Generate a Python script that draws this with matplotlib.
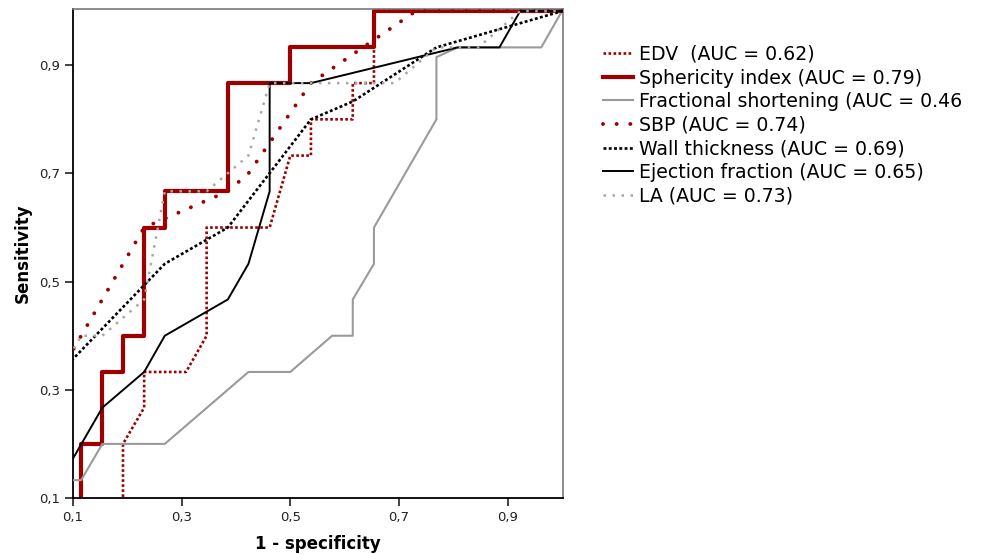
import matplotlib
matplotlib.use('Agg')
import matplotlib.pyplot as plt

# ROC curves (x = 1 - specificity, y = sensitivity)
edv_x = [0.192, 0.192, 0.231, 0.231, 0.308, 0.346, 0.346, 0.462, 0.500, 0.538, 0.538, 0.615, 0.615, 0.654, 0.654, 1.0]
edv_y = [0.0, 0.200, 0.267, 0.333, 0.333, 0.400, 0.600, 0.600, 0.733, 0.733, 0.800, 0.800, 0.867, 0.867, 1.0, 1.0]

sph_x = [0.115, 0.115, 0.154, 0.154, 0.192, 0.192, 0.231, 0.231, 0.269, 0.269, 0.385, 0.385, 0.500, 0.500, 0.654, 0.654, 1.0]
sph_y = [0.0, 0.200, 0.200, 0.333, 0.333, 0.400, 0.400, 0.600, 0.600, 0.667, 0.667, 0.867, 0.867, 0.933, 0.933, 1.0, 1.0]

fs_x = [0.077, 0.115, 0.154, 0.269, 0.423, 0.500, 0.577, 0.615, 0.615, 0.654, 0.654, 0.769, 0.769, 0.808, 0.962, 1.0]
fs_y = [0.133, 0.133, 0.200, 0.200, 0.333, 0.333, 0.400, 0.400, 0.467, 0.533, 0.600, 0.800, 0.915, 0.933, 0.933, 1.0]

sbp_x = [0.038, 0.231, 0.385, 0.423, 0.538, 0.731, 1.0]
sbp_y = [0.267, 0.600, 0.667, 0.700, 0.867, 1.0, 1.0]

wt_x = [0.077, 0.269, 0.385, 0.538, 0.615, 0.769, 1.0]
wt_y = [0.333, 0.533, 0.600, 0.800, 0.833, 0.933, 1.0]

ef_x = [0.077, 0.154, 0.231, 0.269, 0.385, 0.423, 0.462, 0.462, 0.538, 0.808, 0.885, 0.923, 1.0]
ef_y = [0.133, 0.267, 0.333, 0.400, 0.467, 0.533, 0.667, 0.867, 0.867, 0.933, 0.933, 1.0, 1.0]

la_x = [0.077, 0.115, 0.154, 0.231, 0.269, 0.346, 0.423, 0.462, 0.692, 0.769, 0.846, 0.923, 1.0]
la_y = [0.333, 0.400, 0.400, 0.467, 0.667, 0.667, 0.733, 0.867, 0.867, 0.933, 0.933, 1.0, 1.0]

ticks = [0.1, 0.3, 0.5, 0.7, 0.9]
tick_labels = ['0,1', '0,3', '0,5', '0,7', '0,9']

red = '#9e0000'

fig = plt.figure(figsize=(9.86, 5.54), dpi=100)
ax = fig.add_axes([73 / 986, 56 / 554, 490 / 986, 489 / 554])

ax.plot(sph_x, sph_y, color=red, lw=3.0, label='Sphericity index (AUC = 0.79)', zorder=2)
ax.plot(edv_x, edv_y, color=red, lw=1.9, ls=(0, (1, 0.9)), label='EDV  (AUC = 0.62)', zorder=3)
ax.plot(fs_x, fs_y, color='#9a9a9a', lw=1.5, label='Fractional shortening (AUC = 0.46', zorder=3)
ax.plot(sbp_x, sbp_y, color=red, lw=2.8, ls=(0, (0.01, 3.5)), dash_capstyle='round',
        label='SBP (AUC = 0.74)', zorder=4)
ax.plot(wt_x, wt_y, color='black', lw=1.9, ls=(0, (1.1, 0.9)), label='Wall thickness (AUC = 0.69)', zorder=4)
ax.plot(ef_x, ef_y, color='black', lw=1.4, label='Ejection fraction (AUC = 0.65)', zorder=5)
ax.plot(la_x, la_y, color='#a8a8a8', lw=1.8, ls=(0, (1, 2.6)), label='LA (AUC = 0.73)', zorder=6)

ax.set_xlim(0.1, 1.002)
ax.set_ylim(0.1, 1.004)
ax.set_xticks(ticks)
ax.set_xticklabels(tick_labels)
ax.set_yticks(ticks)
ax.set_yticklabels(tick_labels)
ax.tick_params(direction='out', length=6, width=1.2, labelsize=9.5, colors='#222222')

for side in ['left', 'bottom']:
    ax.spines[side].set_linewidth(1.3)
    ax.spines[side].set_color('black')
for side in ['top', 'right']:
    ax.spines[side].set_linewidth(1.2)
    ax.spines[side].set_color('#7a7a7a')

ax.set_xlabel('1 - specificity', fontsize=12, fontweight='bold', labelpad=8)
ax.set_ylabel('Sensitivity', fontsize=12, fontweight='bold', labelpad=5)

handles, labels = ax.get_legend_handles_labels()
order = [1, 0, 2, 3, 4, 5, 6]
fig.legend([handles[i] for i in order], [labels[i] for i in order],
           loc='upper left', bbox_to_anchor=(603 / 986, 1 - 45 / 554),
           frameon=False, fontsize=13.6, handlelength=1.6, handletextpad=0.28,
           labelspacing=0.24, borderpad=0, borderaxespad=0)

plt.savefig('out.png', dpi=100)
